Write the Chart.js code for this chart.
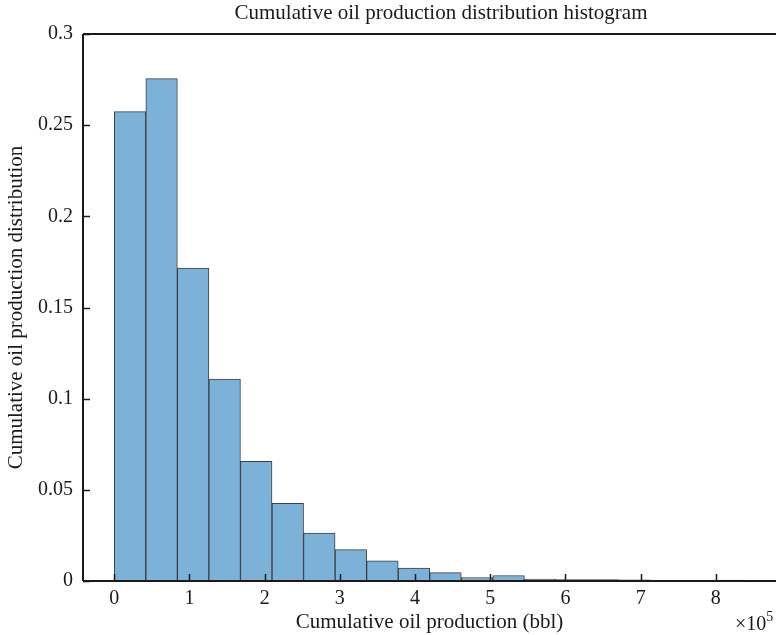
<!DOCTYPE html>
<html>
<head>
<meta charset="utf-8">
<title>Cumulative oil production distribution histogram</title>
<script src="https://cdn.jsdelivr.net/npm/chart.js@4"></script>
<style>
  html, body { margin: 0; padding: 0; background: #fff; overflow: hidden; }
  #wrap { width: 776px; height: 635px; position: relative; }
</style>
</head>
<body>
<div id="wrap"><canvas id="histChart" width="776" height="635"></canvas></div>
<script>
// Histogram bins (units of 1e5 bbl), 20 bins of equal width
const binWidth = 0.4195;
// Relative frequency of each bin
const binFrequency = [
  0.2574, 0.2755, 0.1716, 0.1107, 0.0657, 0.0426, 0.0263, 0.0172, 0.0110, 0.0071,
  0.0046, 0.0019, 0.0030, 0.0011, 0.0008, 0.0008, 0.0007, 0.0003, 0.0002, 0.0005
];
const xTickValues = [0, 1, 2, 3, 4, 5, 6, 7, 8];
const yTickValues = [0, 0.05, 0.1, 0.15, 0.2, 0.25, 0.3];
const yTickLabels = ['0', '0.05', '0.1', '0.15', '0.2', '0.25', '0.3'];

const serif = '"Liberation Serif", "DejaVu Serif", serif';
const textColor = '#1a1a1a';

// bar centres of each bin
const histData = binFrequency.map((v, i) => ({ x: (i + 0.5) * binWidth, y: v }));

// Inward tick marks, frame lines, title and exponent label
const framePlugin = {
  id: 'frame',
  afterDatasetsDraw(chart) {
    const { ctx, chartArea, scales } = chart;
    ctx.save();
    ctx.strokeStyle = textColor;
    ctx.lineWidth = 1.5;
    ctx.beginPath();
    xTickValues.forEach(v => {
      const px = Math.round(scales.x.getPixelForValue(v)) + 0.5;
      ctx.moveTo(px, chartArea.bottom);
      ctx.lineTo(px, chartArea.bottom - 7);
    });
    yTickValues.forEach(v => {
      const py = Math.round(scales.y.getPixelForValue(v)) + 0.5;
      ctx.moveTo(chartArea.left, py);
      ctx.lineTo(chartArea.left + 7, py);
    });
    ctx.stroke();

    // frame: top, left and bottom
    ctx.beginPath();
    ctx.moveTo(chartArea.left, chartArea.top);
    ctx.lineTo(chartArea.right, chartArea.top);
    ctx.moveTo(chartArea.left, chartArea.top);
    ctx.lineTo(chartArea.left, chartArea.bottom);
    ctx.moveTo(chartArea.left, chartArea.bottom);
    ctx.lineTo(chartArea.right, chartArea.bottom);
    ctx.lineWidth = 2;
    ctx.stroke();

    // title
    ctx.fillStyle = textColor;
    ctx.font = '21px ' + serif;
    ctx.textAlign = 'center';
    ctx.textBaseline = 'middle';
    ctx.fillText('Cumulative oil production distribution histogram', 441, 13);

    // x10^5 exponent
    ctx.font = '20px ' + serif;
    ctx.textAlign = 'left';
    const base = '\u00d710';
    const w = ctx.measureText(base).width;
    ctx.fillText(base, 735, 625);
    ctx.font = '14px ' + serif;
    ctx.fillText('5', 735 + w, 617);
    ctx.restore();
  }
};

const ctx = document.getElementById('histChart').getContext('2d');
new Chart(ctx, {
  type: 'bar',
  data: {
    datasets: [{
      label: 'Frequency',
      data: histData,
      backgroundColor: 'rgb(125, 178, 216)',
      borderColor: 'rgba(30, 30, 30, 0.85)',
      borderWidth: 1,
      barPercentage: 1,
      categoryPercentage: 1,
      borderSkipped: false
    }]
  },
  options: {
    responsive: false,
    animation: false,
    layout: { padding: { top: 34, right: 0, left: 0, bottom: 0 } },
    plugins: {
      legend: { display: false },
      tooltip: { enabled: false }
    },
    scales: {
      x: {
        type: 'linear',
        min: -0.416,
        max: 8.8,
        offset: false,
        afterBuildTicks: scale => { scale.ticks = xTickValues.map(v => ({ value: v })); },
        afterFit: scale => { scale.height = 54; },
        grid: { display: false, drawTicks: false },
        border: { display: false },
        ticks: {
          color: textColor,
          font: { family: serif, size: 20 },
          padding: 6,
          maxRotation: 0,
          callback: v => String(v)
        },
        title: {
          display: true,
          text: 'Cumulative oil production (bbl)',
          color: textColor,
          font: { family: serif, size: 21 },
          padding: { top: 0, bottom: 0 }
        }
      },
      y: {
        min: 0,
        max: 0.3,
        afterBuildTicks: scale => { scale.ticks = yTickValues.map(v => ({ value: v })); },
        afterFit: scale => { scale.width = 83; },
        grid: { display: false, drawTicks: false },
        border: { display: false },
        ticks: {
          color: textColor,
          font: { family: serif, size: 20 },
          padding: 10,
          callback: (v, i) => yTickLabels[i]
        },
        title: {
          display: true,
          text: 'Cumulative oil production distribution',
          color: textColor,
          font: { family: serif, size: 21 },
          padding: { top: 4, bottom: 0 }
        }
      }
    }
  },
  plugins: [framePlugin]
});
</script>
</body>
</html>
